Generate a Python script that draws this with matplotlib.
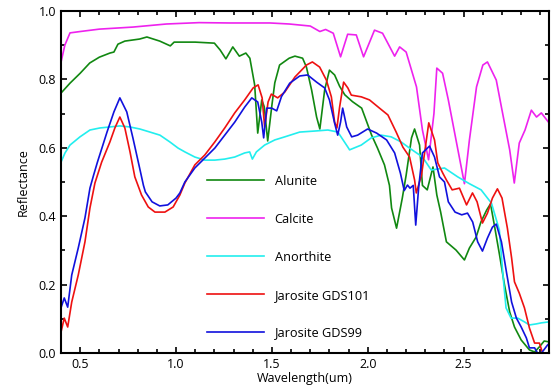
import matplotlib
matplotlib.use("agg")
import matplotlib.pyplot as plt
from matplotlib.ticker import MultipleLocator

# spectra (wavelength in um, reflectance)
alunite_wl = [0.40, 0.447, 0.50, 0.55, 0.60, 0.655, 0.676, 0.697, 0.733, 0.81, 0.848,
              0.915, 0.97, 0.99, 1.10, 1.20, 1.23, 1.26, 1.296, 1.33, 1.364, 1.385,
              1.41, 1.426, 1.447, 1.46, 1.478, 1.50, 1.515, 1.54, 1.59, 1.62, 1.66,
              1.68, 1.707, 1.733, 1.75, 1.775, 1.80, 1.827, 1.853, 1.88, 1.92, 1.968,
              2.02, 2.05, 2.087, 2.113, 2.124, 2.15, 2.18, 2.20, 2.228, 2.244, 2.27,
              2.285, 2.31, 2.34, 2.36, 2.38, 2.41, 2.46, 2.504, 2.53, 2.565, 2.59,
              2.62, 2.64, 2.66, 2.687, 2.713, 2.74, 2.765, 2.80, 2.843, 2.87, 2.895,
              2.92, 2.95]
alunite_r = [0.76, 0.789, 0.818, 0.848, 0.865, 0.877, 0.88, 0.903, 0.912, 0.918, 0.924,
             0.912, 0.898, 0.909, 0.909, 0.906, 0.886, 0.86, 0.895, 0.868, 0.877, 0.862,
             0.784, 0.643, 0.74, 0.72, 0.62, 0.725, 0.79, 0.842, 0.862, 0.868, 0.862,
             0.836, 0.769, 0.69, 0.655, 0.769, 0.827, 0.813, 0.78, 0.755, 0.735, 0.716,
             0.637, 0.60, 0.55, 0.49, 0.424, 0.365, 0.453, 0.52, 0.629, 0.655, 0.608,
             0.49, 0.477, 0.544, 0.462, 0.412, 0.325, 0.301, 0.272, 0.307, 0.339, 0.383,
             0.418, 0.436, 0.374, 0.287, 0.199, 0.12, 0.076, 0.038, 0.009, 0.003, 0.018,
             0.035, 0.032]

calcite_wl = [0.40, 0.42, 0.447, 0.50, 0.60, 0.775, 0.95, 1.12, 1.28, 1.49, 1.59, 1.70,
              1.75, 1.78, 1.82, 1.858, 1.895, 1.94, 1.978, 2.035, 2.077, 2.14, 2.166,
              2.20, 2.254, 2.285, 2.317, 2.345, 2.36, 2.39, 2.42, 2.46, 2.504, 2.53,
              2.567, 2.60, 2.624, 2.67, 2.70, 2.74, 2.764, 2.79, 2.82, 2.853, 2.88,
              2.905, 2.945]
calcite_r = [0.85, 0.90, 0.936, 0.94, 0.947, 0.953, 0.962, 0.966, 0.965, 0.965, 0.962,
             0.956, 0.94, 0.946, 0.935, 0.866, 0.932, 0.93, 0.866, 0.944, 0.935, 0.868,
             0.895, 0.88, 0.778, 0.652, 0.565, 0.70, 0.833, 0.818, 0.74, 0.623, 0.495,
             0.623, 0.778, 0.842, 0.851, 0.798, 0.71, 0.594, 0.497, 0.614, 0.652, 0.71,
             0.69, 0.702, 0.673]

anorthite_wl = [0.40, 0.421, 0.447, 0.499, 0.551, 0.603, 0.707, 0.759, 0.811, 0.864,
                0.916, 0.968, 1.011, 1.046, 1.098, 1.15, 1.202, 1.254, 1.306, 1.358,
                1.384, 1.398, 1.419, 1.462, 1.515, 1.567, 1.645, 1.723, 1.792, 1.844,
                1.896, 1.905, 1.966, 2.018, 2.07, 2.122, 2.174, 2.218, 2.27, 2.296,
                2.331, 2.40, 2.469, 2.53, 2.591, 2.645, 2.686, 2.704, 2.721, 2.747,
                2.782, 2.817, 2.843, 2.878, 2.904, 2.945]
anorthite_r = [0.558, 0.585, 0.608, 0.632, 0.652, 0.658, 0.664, 0.661, 0.655, 0.646,
               0.637, 0.617, 0.599, 0.588, 0.573, 0.564, 0.564, 0.567, 0.573, 0.585,
               0.588, 0.567, 0.588, 0.608, 0.623, 0.632, 0.646, 0.649, 0.652, 0.646,
               0.602, 0.594, 0.608, 0.629, 0.637, 0.632, 0.617, 0.599, 0.579, 0.564,
               0.535, 0.541, 0.515, 0.495, 0.477, 0.438, 0.36, 0.234, 0.132, 0.102,
               0.102, 0.091, 0.082, 0.085, 0.088, 0.091]

gds101_wl = [0.40, 0.417, 0.435, 0.456, 0.49, 0.525, 0.551, 0.577, 0.612, 0.655, 0.681,
             0.707, 0.733, 0.76, 0.785, 0.82, 0.855, 0.89, 0.942, 0.985, 1.02, 1.046,
             1.098, 1.15, 1.202, 1.254, 1.306, 1.358, 1.402, 1.428, 1.449, 1.462, 1.48,
             1.497, 1.53, 1.567, 1.62, 1.68, 1.711, 1.749, 1.784, 1.81, 1.827, 1.839,
             1.853, 1.874, 1.896, 1.914, 1.966, 2.009, 2.061, 2.105, 2.148, 2.183,
             2.218, 2.244, 2.253, 2.28, 2.318, 2.348, 2.365, 2.391, 2.41, 2.44, 2.478,
             2.515, 2.546, 2.57, 2.598, 2.624, 2.65, 2.676, 2.70, 2.728, 2.75, 2.765,
             2.79, 2.817, 2.843, 2.87, 2.895, 2.91, 2.93]
gds101_r = [0.061, 0.102, 0.076, 0.149, 0.228, 0.325, 0.424, 0.497, 0.558, 0.617, 0.658,
            0.69, 0.658, 0.588, 0.515, 0.462, 0.427, 0.412, 0.412, 0.427, 0.462, 0.497,
            0.55, 0.579, 0.617, 0.658, 0.702, 0.74, 0.775, 0.784, 0.746, 0.661, 0.734,
            0.757, 0.746, 0.763, 0.807, 0.842, 0.851, 0.836, 0.798, 0.749, 0.675, 0.658,
            0.719, 0.792, 0.775, 0.754, 0.749, 0.74, 0.716, 0.696, 0.646, 0.602,
            0.573, 0.506, 0.468, 0.52, 0.673, 0.623, 0.556, 0.526, 0.506, 0.477, 0.482,
            0.433, 0.468, 0.442, 0.38, 0.409, 0.453, 0.48, 0.453, 0.365, 0.278, 0.208,
            0.175, 0.132, 0.073, 0.029, 0.029, 0.003, -0.02]

gds99_wl = [0.40, 0.417, 0.435, 0.456, 0.49, 0.525, 0.551, 0.57, 0.59, 0.64, 0.676,
            0.707, 0.743, 0.775, 0.81, 0.83, 0.84, 0.875, 0.915, 0.957, 1.0, 1.02,
            1.046, 1.098, 1.15, 1.202, 1.254, 1.306, 1.358, 1.395, 1.426, 1.447, 1.457,
            1.473, 1.499, 1.525, 1.55, 1.593, 1.645, 1.686, 1.733, 1.775, 1.80, 1.827,
            1.843, 1.858, 1.869, 1.89, 1.916, 1.947, 1.999, 2.046, 2.098, 2.14, 2.17,
            2.19, 2.207, 2.22, 2.237, 2.25, 2.265, 2.285, 2.322, 2.348, 2.374, 2.40,
            2.42, 2.455, 2.49, 2.52, 2.547, 2.573, 2.598, 2.624, 2.65, 2.67, 2.697,
            2.723, 2.75, 2.775, 2.80, 2.827, 2.843, 2.87, 2.89, 2.91, 2.937, 2.95]
gds99_r = [0.132, 0.161, 0.134, 0.228, 0.307, 0.395, 0.482, 0.52, 0.558, 0.646, 0.705,
           0.746, 0.705, 0.629, 0.541, 0.49, 0.471, 0.442, 0.43, 0.433, 0.453, 0.468,
           0.50, 0.541, 0.57, 0.599, 0.637, 0.675, 0.719, 0.746, 0.734, 0.675, 0.629,
           0.716, 0.716, 0.708, 0.75, 0.789, 0.81, 0.813, 0.792, 0.775, 0.74, 0.672,
           0.637, 0.675, 0.716, 0.661, 0.632, 0.637, 0.655, 0.643, 0.623, 0.585, 0.526,
           0.475, 0.491, 0.482, 0.49, 0.374, 0.482, 0.585, 0.605, 0.573, 0.515, 0.50,
           0.442, 0.412, 0.404, 0.409, 0.383, 0.325, 0.298, 0.336, 0.368, 0.377, 0.325,
           0.237, 0.149, 0.102, 0.076, 0.044, 0.015, 0.015, -0.005, 0.003, 0.023, 0.03]

series = [
    ("Alunite", alunite_wl, alunite_r, "#118811"),
    ("Calcite", calcite_wl, calcite_r, "#ee22ee"),
    ("Anorthite", anorthite_wl, anorthite_r, "#22eeee"),
    ("Jarosite GDS101", gds101_wl, gds101_r, "#ee1111"),
    ("Jarosite GDS99", gds99_wl, gds99_r, "#1111dd"),
]

plt.rcParams["font.family"] = ["Open Sans", "DejaVu Sans"]
plt.rcParams["font.size"] = 9

fig = plt.figure(figsize=(5.56, 3.86), dpi=100)
ax = fig.add_axes([0.1097, 0.0855, 0.8777, 0.886])

for name, wl, r, color in series:
    ax.plot(wl, r, color=color, lw=1.2, label=name)

ax.set_xlim(0.4, 2.945)
ax.set_ylim(0.0, 1.0)
ax.xaxis.set_major_locator(MultipleLocator(0.5))
ax.xaxis.set_minor_locator(MultipleLocator(0.1))
ax.yaxis.set_major_locator(MultipleLocator(0.2))
ax.yaxis.set_minor_locator(MultipleLocator(0.1))
ax.tick_params(which="both", direction="in", top=True, right=True, width=1.2)
ax.tick_params(which="major", length=4.5, labelsize=9)
ax.tick_params(which="minor", length=2.8)
for sp in ax.spines.values():
    sp.set_linewidth(1.5)

ax.set_xlabel("Wavelength(um)", fontsize=9, labelpad=1)
ax.set_ylabel("Reflectance", fontsize=9, labelpad=6)

ax.legend(loc="upper left", bbox_to_anchor=(0.372, 0.547), bbox_transform=fig.transFigure,
          frameon=False, handlelength=4.5, handletextpad=0.8, labelspacing=1.95,
          borderpad=0, borderaxespad=0, fontsize=9.2)

fig.savefig("out.png", dpi=100)
